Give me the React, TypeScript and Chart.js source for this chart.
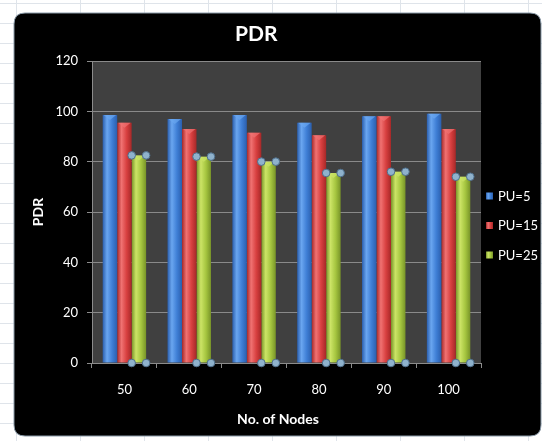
import React, { useEffect, useRef } from "react";
import { Chart, registerables } from "chart.js";

Chart.register(...registerables);

const categories = ["50", "60", "70", "80", "90", "100"];
const seriesLabels = ["PU=5", "PU=15", "PU=25"];
const pu5 = [98.5, 97, 98.5, 95.5, 98, 99];
const pu15 = [95.5, 93, 91.5, 90.5, 98, 93];
const pu25 = [82.5, 82, 80, 75.5, 76, 74];
const yMin = 0;
const yMax = 120;
const yStep = 20;
const chartTitle = "PDR";
const xTitle = "No. of Nodes";
const yTitle = "PDR";

// [dark edge, highlight, base]
const palettes = [
  ["#2b5fae", "#6aa6f0", "#3f7fd6"],
  ["#a62828", "#f07272", "#d84040"],
  ["#789428", "#cce466", "#a6c640"],
];

const FONT = "Lato, 'Liberation Sans', Arial, sans-serif";

function barGradient(ctx: CanvasRenderingContext2D, left: number, right: number, pal: string[]) {
  const g = ctx.createLinearGradient(left, 0, right, 0);
  g.addColorStop(0, pal[0]);
  g.addColorStop(0.3, pal[1]);
  g.addColorStop(0.65, pal[2]);
  g.addColorStop(1, pal[0]);
  return g;
}

const backgroundPlugin = {
  id: "excelBackground",
  afterLayout(chart: any) {
    if (chart.titleBlock) {
      chart.titleBlock.left = 31.5;
    }
  },
  beforeDraw(chart: any) {
    const { ctx, width, height, chartArea } = chart;
    ctx.save();
    ctx.fillStyle = "#ffffff";
    ctx.fillRect(0, 0, width, height);
    ctx.strokeStyle = "#dfe4ea";
    ctx.lineWidth = 1;
    for (let x = 16; x < width; x += 64) {
      ctx.beginPath();
      ctx.moveTo(x + 0.5, 0);
      ctx.lineTo(x + 0.5, height);
      ctx.stroke();
    }
    for (let y = 3; y < height; y += 20) {
      ctx.beginPath();
      ctx.moveTo(0, y + 0.5);
      ctx.lineTo(width, y + 0.5);
      ctx.stroke();
    }
    // black chart frame
    const x0 = 14, y0 = 13, x1 = 541, y1 = 436, r = 11;
    ctx.fillStyle = "#000000";
    ctx.strokeStyle = "#8a9aa8";
    ctx.beginPath();
    ctx.moveTo(x0 + r, y0);
    ctx.lineTo(x1 - r, y0);
    ctx.quadraticCurveTo(x1, y0, x1, y0 + r);
    ctx.lineTo(x1, y1 - r);
    ctx.quadraticCurveTo(x1, y1, x1 - r, y1);
    ctx.lineTo(x0 + r, y1);
    ctx.quadraticCurveTo(x0, y1, x0, y1 - r);
    ctx.lineTo(x0, y0 + r);
    ctx.quadraticCurveTo(x0, y0, x0 + r, y0);
    ctx.closePath();
    ctx.fill();
    ctx.stroke();
    // plot area
    ctx.fillStyle = "#404040";
    ctx.fillRect(chartArea.left, chartArea.top, chartArea.right - chartArea.left, chartArea.bottom - chartArea.top);
    ctx.restore();
  },
};

const barStylePlugin = {
  id: "barStyle",
  beforeDatasetsDraw(chart: any) {
    const { ctx } = chart;
    chart.data.datasets.forEach((_: any, di: number) => {
      const meta = chart.getDatasetMeta(di);
      meta.data.forEach((el: any) => {
        const left = el.x - el.width / 2;
        const right = el.x + el.width / 2;
        el.options = { ...el.options, backgroundColor: barGradient(ctx, left, right, palettes[di]) };
      });
    });
  },
  afterDatasetsDraw(chart: any) {
    const { ctx, chartArea } = chart;
    ctx.save();
    // small bevel highlight at bar tops
    chart.data.datasets.forEach((_: any, di: number) => {
      const meta = chart.getDatasetMeta(di);
      meta.data.forEach((el: any) => {
        const l = el.x - el.width / 2;
        const r = el.x + el.width / 2;
        ctx.fillStyle = palettes[di][1];
        ctx.globalAlpha = 0.7;
        ctx.beginPath();
        ctx.moveTo(l + 1, el.y);
        ctx.lineTo(r - 1, el.y);
        ctx.lineTo(el.x, el.y + 5);
        ctx.closePath();
        ctx.fill();
        ctx.globalAlpha = 1;
      });
    });
    // selection handles on the last series
    const meta = chart.getDatasetMeta(2);
    meta.data.forEach((el: any) => {
      const l = el.x - el.width / 2;
      const r = el.x + el.width / 2;
      const pts = [
        [l, el.y],
        [r, el.y],
        [l, chartArea.bottom],
        [r, chartArea.bottom],
      ];
      pts.forEach(([px, py]) => {
        ctx.beginPath();
        ctx.arc(px, py, 3.8, 0, Math.PI * 2);
        ctx.fillStyle = "#8fb2cc";
        ctx.fill();
        ctx.lineWidth = 1;
        ctx.strokeStyle = "#4f6f8c";
        ctx.stroke();
      });
    });
    ctx.restore();
  },
  afterDraw(chart: any) {
    const { ctx } = chart;
    ctx.save();
    // x-axis title (centred on the chart frame, as in the source)
    ctx.font = `bold 14px ${FONT}`;
    ctx.fillStyle = "#ffffff";
    ctx.textAlign = "center";
    ctx.textBaseline = "middle";
    ctx.fillText(xTitle, 278, 419);
    // legend
    const x = 486;
    const ys = [196, 225.5, 255];
    ctx.font = `13px ${FONT}`;
    ctx.textAlign = "left";
    chart.data.datasets.forEach((ds: any, di: number) => {
      const y = ys[di];
      ctx.fillStyle = barGradient(ctx, x, x + 7, palettes[di]);
      ctx.fillRect(x, y - 3.5, 7, 7);
      ctx.fillStyle = "#ffffff";
      ctx.fillText(ds.label, x + 12, y + 0.5);
    });
    ctx.restore();
  },
};

export default function App() {
  const canvasRef = useRef<HTMLCanvasElement | null>(null);

  useEffect(() => {
    document.body.style.margin = "0";
    const canvas = canvasRef.current;
    if (!canvas) return;
    const chart = new Chart(canvas, {
      type: "bar",
      data: {
        labels: categories,
        datasets: [
          { label: seriesLabels[0], data: pu5, backgroundColor: palettes[0][2] },
          { label: seriesLabels[1], data: pu15, backgroundColor: palettes[1][2] },
          { label: seriesLabels[2], data: pu25, backgroundColor: palettes[2][2] },
        ],
      },
      options: {
        responsive: false,
        animation: false,
        devicePixelRatio: 1,
        layout: { padding: { left: 14, top: 13, right: 61, bottom: 5 } },
        datasets: {
          bar: { categoryPercentage: 0.67, barPercentage: 1, borderWidth: 0 },
        },
        plugins: {
          legend: { display: false },
          tooltip: { enabled: false },
          title: {
            display: true,
            text: chartTitle,
            color: "#ffffff",
            font: { family: FONT, size: 21, weight: "bold" },
            padding: { top: 9, bottom: 13.8 },
          },
        },
        scales: {
          x: {
            afterFit: (scale: any) => {
              scale.height = 73;
            },
            grid: {
              display: true,
              offset: true,
              drawOnChartArea: false,
              drawTicks: true,
              tickLength: 5,
              tickColor: "#8c8c8c",
            },
            border: { display: true, color: "#8c8c8c" },
            ticks: {
              color: "#ffffff",
              font: { family: FONT, size: 13 },
              padding: 14,
            },
            title: { display: false },
          },
          y: {
            min: yMin,
            max: yMax,
            afterFit: (scale: any) => {
              scale.width = 78;
            },
            grid: {
              color: "#8a8a8a",
              lineWidth: 1,
              drawTicks: true,
              tickLength: 5,
              tickColor: "#8c8c8c",
            },
            border: { display: true, color: "#8c8c8c" },
            ticks: {
              stepSize: yStep,
              color: "#ffffff",
              font: { family: FONT, size: 13 },
              padding: 9,
            },
            title: {
              display: true,
              text: yTitle,
              color: "#ffffff",
              font: { family: FONT, size: 14, weight: "bold" },
              padding: { top: 15.6, bottom: 0 },
            },
          },
        },
      },
      plugins: [backgroundPlugin, barStylePlugin],
    } as any);
    return () => chart.destroy();
  }, []);

  return (
    <div style={{ position: "absolute", left: 0, top: 0, width: 542, height: 441 }}>
      <canvas ref={canvasRef} width={542} height={441} style={{ display: "block", width: 542, height: 441 }} />
    </div>
  );
}
